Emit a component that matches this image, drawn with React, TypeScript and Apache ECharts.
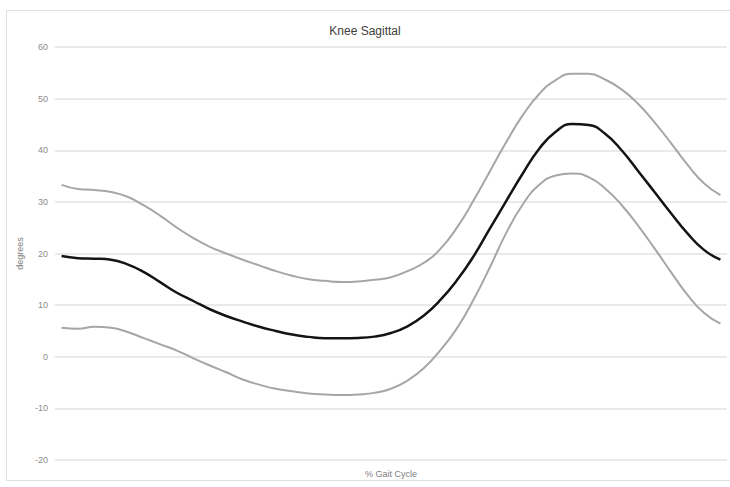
import React, { useEffect, useRef } from "react";
import * as echarts from "echarts";

const gaitPct = [0, 2.5, 5, 7.5, 10, 12.5, 15, 17.5, 20, 22.5, 25, 27.5, 30, 32.5, 35, 37.5, 40, 42.5, 45, 47.5, 50, 52.5, 55, 57.5, 60, 62.5, 65, 67.5, 70, 72.5, 75, 77.5, 80, 82.5, 85, 87.5, 90, 92.5, 95, 97.5, 100];

const meanDeg = [19.5, 19.1, 19.0, 18.8, 17.9, 16.4, 14.4, 12.4, 10.8, 9.2, 7.9, 6.8, 5.8, 5.0, 4.3, 3.85, 3.6, 3.6, 3.65, 3.9, 4.6, 5.9, 8.0, 11.0, 14.8, 19.4, 24.8, 30.2, 35.5, 40.3, 43.6, 45.1, 44.9, 43.2, 40.0, 36.0, 31.9, 27.8, 23.9, 20.7, 18.8];

const upperDeg = [33.3, 32.5, 32.3, 31.9, 31.0, 29.3, 27.3, 25.0, 23.0, 21.3, 20.0, 18.8, 17.7, 16.6, 15.7, 15.0, 14.7, 14.5, 14.6, 14.9, 15.4, 16.6, 18.2, 20.9, 25.0, 30.2, 35.9, 41.6, 46.8, 50.9, 53.6, 54.8, 54.8, 53.7, 51.8, 49.0, 45.4, 41.4, 37.2, 33.6, 31.3];

const lowerDeg = [5.6, 5.4, 5.8, 5.6, 4.8, 3.6, 2.4, 1.2, -0.3, -1.7, -3.0, -4.4, -5.4, -6.2, -6.7, -7.1, -7.3, -7.4, -7.3, -7.0, -6.2, -4.6, -2.2, 1.3, 5.5, 11.0, 17.3, 24.0, 29.5, 33.3, 35.1, 35.5, 34.8, 32.6, 29.4, 25.4, 21.0, 16.4, 12.0, 8.5, 6.4];

const yTicks = { min: -20, max: 60, interval: 10 };

const pair = (vals: number[]) => gaitPct.map((p, i) => [p, vals[i]]);

export default function App() {
  const ref = useRef<HTMLDivElement>(null);
  useEffect(() => {
    if (!ref.current) return;
    const chart = echarts.init(ref.current, undefined, { renderer: "svg" });
    const font = "'Liberation Sans', Arial, sans-serif";
    chart.setOption({
      animation: false,
      backgroundColor: "#ffffff",
      title: {
        text: "Knee Sagittal",
        left: "center",
        top: 20,
        textStyle: { fontSize: 12, fontWeight: "normal", color: "#404040", fontFamily: font },
      },
      graphic: [
        {
          type: "rect",
          shape: { x: 6.5, y: 10.5, width: 740, height: 470 },
          style: { fill: "none", stroke: "#e0e0e0", lineWidth: 1 },
          silent: true,
        },
      ],
      grid: { left: 55, right: 3, top: 47, bottom: 27 },
      xAxis: {
        type: "value",
        min: -1,
        max: 101,
        name: "% Gait Cycle",
        nameLocation: "middle",
        nameGap: 9,
        nameTextStyle: { fontSize: 9, color: "#808080", fontFamily: font },
        axisLine: { show: false },
        axisTick: { show: false },
        axisLabel: { show: false },
        splitLine: { show: false },
      },
      yAxis: {
        type: "value",
        min: yTicks.min,
        max: yTicks.max,
        interval: yTicks.interval,
        name: "degrees",
        nameLocation: "middle",
        nameRotate: 90,
        nameGap: 19,
        nameTextStyle: { fontSize: 9, color: "#808080", fontFamily: font },
        axisLine: { show: false },
        axisTick: { show: false },
        axisLabel: { fontSize: 9, color: "#8c8c8c", margin: 7, fontFamily: font },
        splitLine: { lineStyle: { color: "#e3e3e3", width: 1.5 } },
      },
      series: [
        {
          name: "Upper",
          type: "line",
          data: pair(upperDeg),
          smooth: 0.5,
          symbol: "none",
          lineStyle: { color: "#a6a6a6", width: 2 },
        },
        {
          name: "Lower",
          type: "line",
          data: pair(lowerDeg),
          smooth: 0.5,
          symbol: "none",
          lineStyle: { color: "#a6a6a6", width: 2 },
        },
        {
          name: "Mean",
          type: "line",
          data: pair(meanDeg),
          smooth: 0.5,
          symbol: "none",
          lineStyle: { color: "#141414", width: 2.5 },
        },
      ],
    });
    return () => chart.dispose();
  }, []);
  return (
    <div
      ref={ref}
      style={{ position: "fixed", left: 0, top: 0, width: 730, height: 487, background: "#fff" }}
    />
  );
}
